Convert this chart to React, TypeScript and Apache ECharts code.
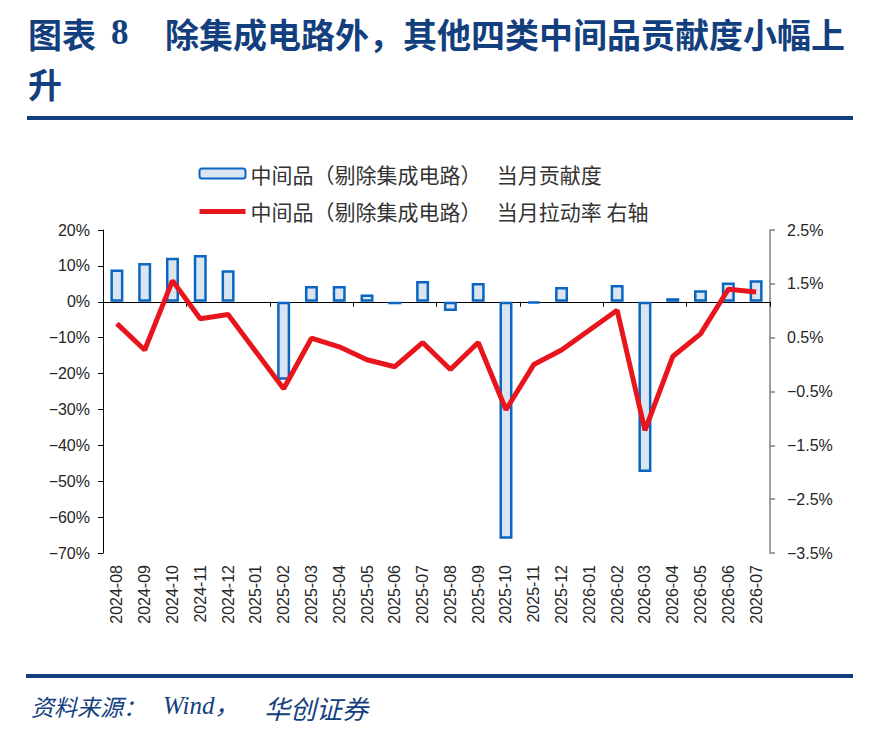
import { useEffect, useRef } from "react";
import * as echarts from "echarts";

const months = [
  "2024-08", "2024-09", "2024-10", "2024-11", "2024-12",
  "2025-01", "2025-02", "2025-03", "2025-04", "2025-05", "2025-06",
  "2025-07", "2025-08", "2025-09", "2025-10", "2025-11", "2025-12",
  "2026-01", "2026-02", "2026-03", "2026-04", "2026-05", "2026-06", "2026-07",
];

// 当月贡献度, % (left axis)
const contribution = [
  9.0, 10.8, 12.3, 13.0, 8.8,
  null, -21.7, 4.4, 4.4, 2.0, -0.7,
  5.8, -2.6, 5.2, -66.0, -0.4, 4.1,
  null, 4.7, -47.4, 1.0, 3.2, 5.4, 6.0,
];

// 当月拉动率, % (right axis)
const pullRate = [
  0.76, 0.27, 1.56, 0.85, 0.93,
  null, -0.45, 0.49, 0.33, 0.09, -0.04,
  0.41, -0.09, 0.41, -0.84, 0.0, 0.27,
  null, 1.01, -1.22, 0.15, 0.57, 1.4, 1.35,
];

const barName = "中间品（剔除集成电路）　 当月贡献度";
const lineName = "中间品（剔除集成电路）　 当月拉动率 右轴";

const navy = "#143f7e";
const cjk = "'Noto Sans CJK SC', sans-serif";
const latin = "'Liberation Sans', Arial, sans-serif";

const minus = (s: string) => s.replace("-", "\u2212");

export default function App() {
  const ref = useRef<HTMLDivElement>(null);

  useEffect(() => {
    if (!ref.current) return;
    const chart = echarts.init(ref.current, undefined, { renderer: "svg" });

    chart.setOption({
      animation: false,
      backgroundColor: "#fff",
      grid: { left: 103, right: 100, top: 230, bottom: 179 },
      legend: {
        orient: "vertical",
        left: 197,
        top: 163,
        padding: 0,
        itemWidth: 46,
        itemHeight: 10,
        itemGap: 17,
        itemTextGap: 6,
        data: [
          barName,
          { name: lineName, itemStyle: { opacity: 0 }, lineStyle: { width: 5 } },
        ],
        textStyle: { fontFamily: cjk, fontSize: 21, lineHeight: 20, color: "#333" },
      },
      graphic: [
        {
          type: "text",
          left: 28,
          top: 16,
          style: { text: "图表", font: `bold 34px ${cjk}`, fill: navy },
        },
        {
          type: "text",
          left: 111,
          top: 15,
          style: { text: "8", font: "bold 35px 'Liberation Serif', serif", fill: navy },
        },
        {
          type: "text",
          left: 165,
          top: 16,
          style: {
            text: "除集成电路外，其他四类中间品贡献度小幅上",
            font: `bold 34px ${cjk}`,
            fill: navy,
          },
        },
        {
          type: "text",
          left: 28,
          top: 66,
          style: { text: "升", font: `bold 34px ${cjk}`, fill: navy },
        },
        { type: "rect", shape: { x: 27, y: 116, width: 826, height: 4 }, style: { fill: navy } },
        { type: "rect", shape: { x: 26, y: 674, width: 827, height: 4 }, style: { fill: navy } },
        {
          type: "text",
          left: 31,
          top: 694,
          style: { text: "资料来源：", font: `italic 23px ${cjk}`, fill: navy },
        },
        {
          type: "text",
          left: 163,
          top: 693,
          style: { text: "Wind，", font: `italic 25px 'Liberation Serif', ${cjk}`, fill: navy },
        },
        {
          type: "text",
          left: 264,
          top: 694,
          style: { text: "华创证券", font: `italic 26px ${cjk}`, fill: navy },
        },
      ],
      xAxis: [
        {
          type: "category",
          data: months,
          axisLine: { onZero: true, onZeroAxisIndex: 0, lineStyle: { color: "#000", width: 1 } },
          axisTick: { show: true, length: 5, lineStyle: { color: "#000" } },
          axisLabel: { show: false },
          splitLine: { show: false },
        },
        {
          type: "category",
          data: months,
          position: "bottom",
          axisLine: { show: false, onZero: false },
          axisTick: { show: false },
          axisLabel: {
            rotate: 90,
            margin: 12,
            interval: 0,
            fontFamily: latin,
            fontSize: 16,
            color: "#262626",
          },
        },
      ],
      yAxis: [
        {
          type: "value",
          position: "left",
          min: -70,
          max: 20,
          interval: 10,
          axisLine: { show: true, lineStyle: { color: "#000", width: 1 } },
          axisTick: { show: true, length: 5, lineStyle: { color: "#000" } },
          splitLine: { show: false },
          axisLabel: {
            margin: 13,
            fontFamily: latin,
            fontSize: 16,
            color: "#262626",
            formatter: (v: number) => minus(`${v}%`),
          },
        },
        {
          type: "value",
          position: "right",
          min: -3.5,
          max: 2.5,
          interval: 1,
          axisLine: { show: true, lineStyle: { color: "#808080", width: 1.5 } },
          axisTick: { show: true, length: 5, lineStyle: { color: "#808080", width: 1.5 } },
          splitLine: { show: false },
          axisLabel: {
            margin: 17,
            fontFamily: latin,
            fontSize: 16,
            color: "#262626",
            formatter: (v: number) => minus(`${v.toFixed(1)}%`),
          },
        },
      ],
      series: [
        {
          name: barName,
          type: "bar",
          xAxisIndex: 0,
          yAxisIndex: 0,
          data: contribution,
          barWidth: 13,
          itemStyle: { color: "#dbe5f2", borderColor: "#0a66c2", borderWidth: 2.5 },
        },
        {
          name: lineName,
          type: "line",
          xAxisIndex: 0,
          yAxisIndex: 1,
          data: pullRate,
          connectNulls: true,
          symbol: "none",
          lineStyle: { color: "#e8151d", width: 5 },
          itemStyle: { color: "#e8151d" },
        },
      ],
    });

    return () => chart.dispose();
  }, []);

  return (
    <div
      ref={ref}
      style={{ position: "absolute", left: 0, top: 0, width: 870, height: 732 }}
    />
  );
}
